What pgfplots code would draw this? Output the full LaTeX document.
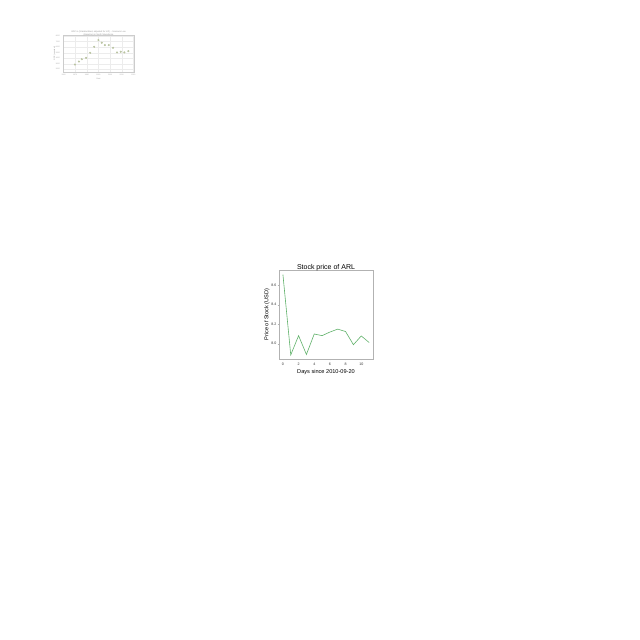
\documentclass[border=0pt]{standalone}
\usepackage{pgfplots}
\pgfplotsset{compat=1.18}
\usepackage{fontspec}
\setmainfont{Liberation Sans}
\definecolor{linegreen}{RGB}{96,178,106}
\definecolor{dotcol}{RGB}{185,195,160}
\begin{document}
\begin{tikzpicture}
\fill[white] (0,0) rectangle (640bp,640bp);
\path[use as bounding box] (0,0) rectangle (640bp,640bp);
% inset chart
\begin{axis}[
  scale only axis, width=71bp, height=37bp,
  at={(63bp,568bp)}, anchor=south west,
  xmin=-0.05, xmax=6.06, ymin=-0.49, ymax=6.18,
  xtick={0,...,6}, xticklabels={1960,1970,1980,1990,2000,2010,2020},
  ytick={0,...,6}, yticklabels={2000,3000,4000,5000,6000,7000,8000},
  grid=major, grid style={gray!15, line width=0.2bp},
  axis line style={gray!40, line width=0.3bp},
  major tick length=0pt,
  tick label style={font=\fontsize{1.8bp}{2bp}\selectfont, text=gray!70},
  /pgf/number format/assume math mode=true,
  xticklabel style={yshift=0.8bp},
  yticklabel style={xshift=0.5bp},
  title={GDP in (Standardized, adjusted for Infl.) - Scenario Low\\(Baseline) in North Macedonia},
  title style={font=\fontsize{2.2bp}{2.8bp}\selectfont, text=gray!80, align=center, yshift=-10bp},
  xlabel={Year}, ylabel={GDP (constant)},
  label style={font=\fontsize{2bp}{2.4bp}\selectfont, text=gray!80},
  xlabel style={yshift=5bp},
  ylabel style={yshift=-6.5bp},
]
\addplot[only marks, mark=*, mark size=0.8bp, mark options={draw=dotcol, fill=dotcol}] coordinates {
(0.98,0.85) (1.32,1.40) (1.57,1.82) (1.94,2.05) (2.29,2.96) (2.63,4.05)
(3.00,5.27) (3.29,4.78) (3.55,4.36) (3.89,4.36) (4.26,3.87) (4.60,3.04)
(4.92,3.15) (5.23,3.04) (5.57,3.27)};
\end{axis}
% main chart
\begin{axis}[
  scale only axis, width=94bp, height=89bp,
  at={(279bp,281bp)}, anchor=south west,
  xmin=-0.5, xmax=11.5, ymin=7.8435, ymax=8.7565,
  xtick={0,2,...,10}, ytick={8.0,8.2,8.4,8.6},
  yticklabels={8.0,8.2,8.4,8.6},
  /pgf/number format/assume math mode=true,
  axis line style={gray!60, line width=0.5bp},
  tick style={gray!60, line width=0.4bp},
  tick align=outside, tick pos=left, major tick length=1.5bp,
  tick label style={font=\fontsize{3.6bp}{4bp}\selectfont, text=black!80},
  xticklabel style={yshift=0.8bp},
  yticklabel style={xshift=2.3bp},
  title={Stock price of ARL},
  title style={font=\fontsize{7bp}{8bp}\selectfont, yshift=-10.5bp},
  xlabel={Days since 2010-09-20},
  ylabel={Price of Stock (USD)},
  label style={font=\fontsize{5.6bp}{6.5bp}\selectfont},
  xlabel style={yshift=3.5bp},
  ylabel style={yshift=-5bp},
]
\addplot[linegreen, line width=0.6bp] coordinates {
(0,8.71) (1,7.885) (2,8.083) (3,7.89) (4,8.10) (5,8.083) (6,8.12)
(7,8.15) (8,8.125) (9,7.99) (10,8.08) (11,8.013)};
\end{axis}
\end{tikzpicture}
\end{document}
